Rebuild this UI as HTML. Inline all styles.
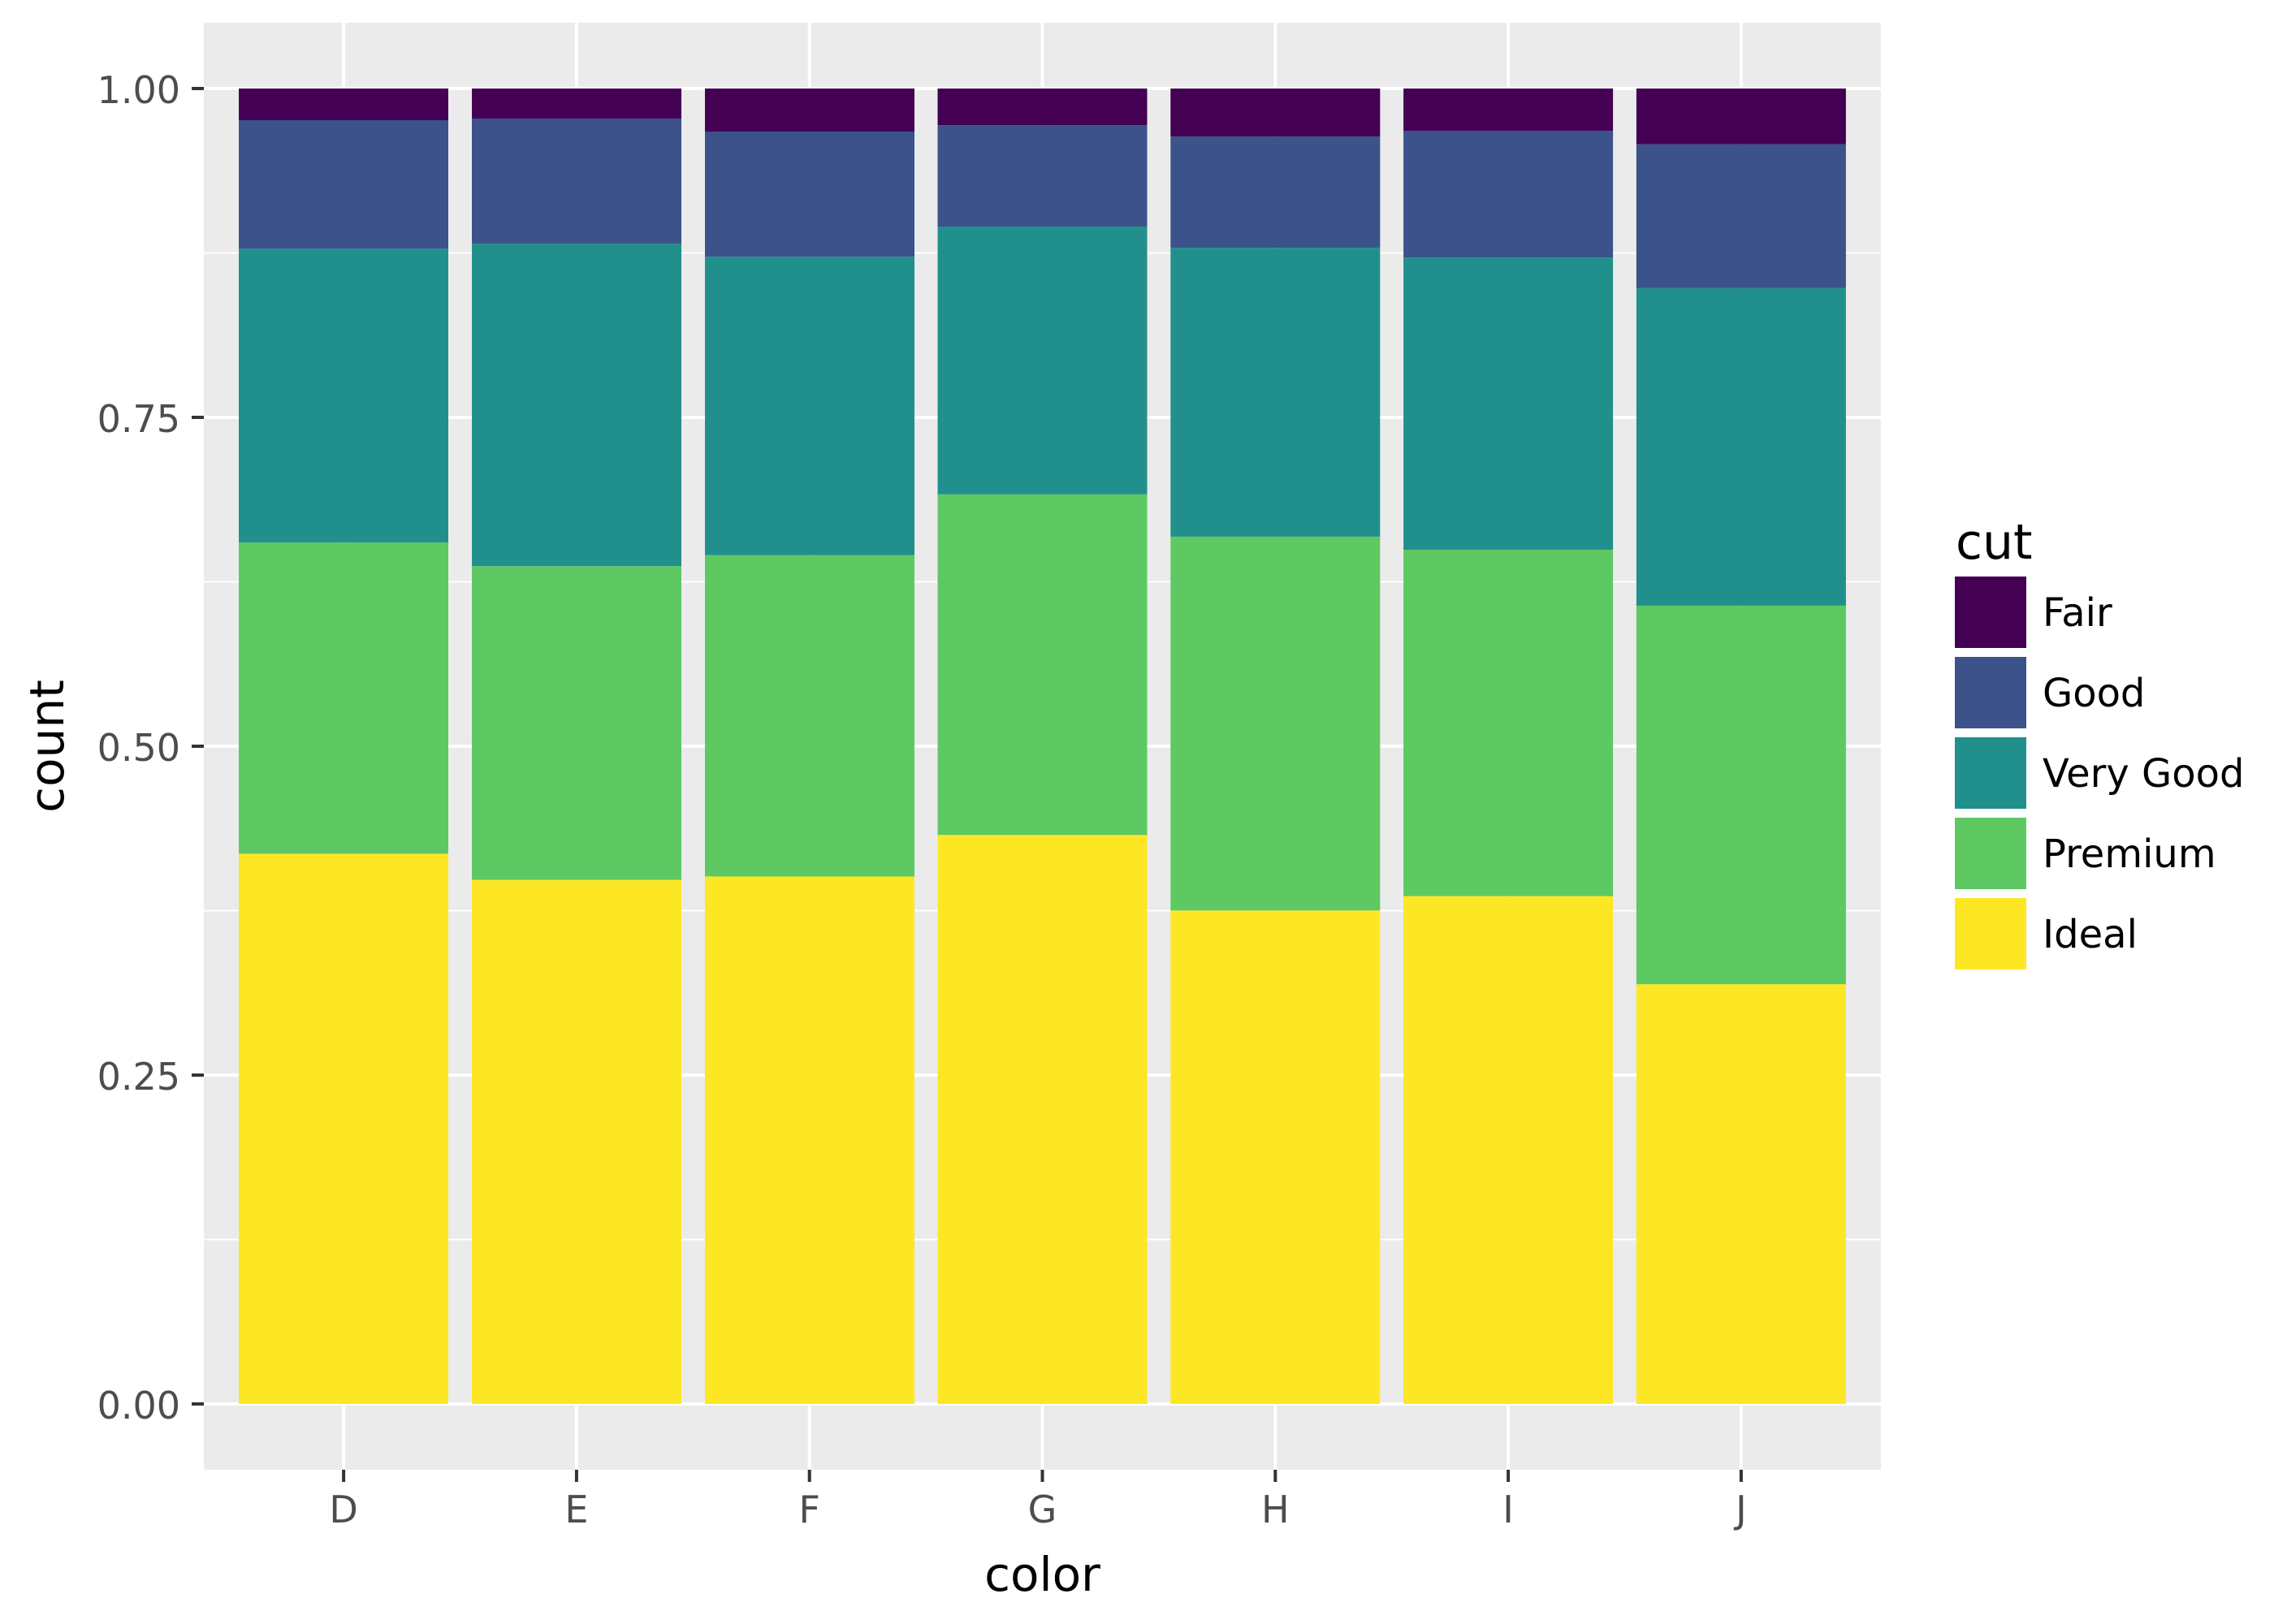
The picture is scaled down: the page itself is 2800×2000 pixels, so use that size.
<!DOCTYPE html>
<html><head><meta charset="utf-8"><style>html,body{margin:0;padding:0;background:#fff}svg{display:block}</style></head><body>
<svg width="2800" height="2000" viewBox="0 0 2800 2000" xmlns="http://www.w3.org/2000/svg" font-family="'DejaVu Sans','Liberation Sans',sans-serif">
<rect width="2800" height="2000" fill="#fff"/>
<rect x="251" y="28" width="2065" height="1782" fill="#ebebeb"/>
<g stroke="#fff" stroke-width="2">
<line x1="251" x2="2316" y1="1526.5" y2="1526.5"/><line x1="251" x2="2316" y1="1121.5" y2="1121.5"/><line x1="251" x2="2316" y1="716.5" y2="716.5"/><line x1="251" x2="2316" y1="311.5" y2="311.5"/>
</g>
<g stroke="#fff" stroke-width="4">
<line x1="251" x2="2316" y1="1729" y2="1729"/><line x1="251" x2="2316" y1="1324" y2="1324"/><line x1="251" x2="2316" y1="919" y2="919"/><line x1="251" x2="2316" y1="514" y2="514"/><line x1="251" x2="2316" y1="109" y2="109"/>
<line y1="28" y2="1810" x1="423.1" x2="423.1"/><line y1="28" y2="1810" x1="709.9" x2="709.9"/><line y1="28" y2="1810" x1="996.7" x2="996.7"/><line y1="28" y2="1810" x1="1283.5" x2="1283.5"/><line y1="28" y2="1810" x1="1570.3" x2="1570.3"/><line y1="28" y2="1810" x1="1857.1" x2="1857.1"/><line y1="28" y2="1810" x1="2143.9" x2="2143.9"/>
</g>
<g>
<rect x="294" y="1051.4" width="258" height="677.6" fill="#fde725"/><rect x="294" y="668.1" width="258" height="383.3" fill="#5ec962"/><rect x="294" y="306.3" width="258" height="361.8" fill="#21908c"/><rect x="294" y="148" width="258" height="158.3" fill="#3b528b"/><rect x="294" y="109" width="258" height="39" fill="#440154"/>
<rect x="581" y="1083.6" width="258" height="645.4" fill="#fde725"/><rect x="581" y="697.2" width="258" height="386.4" fill="#5ec962"/><rect x="581" y="300.3" width="258" height="396.9" fill="#21908c"/><rect x="581" y="146" width="258" height="154.3" fill="#3b528b"/><rect x="581" y="109" width="258" height="37" fill="#440154"/>
<rect x="868" y="1079.4" width="258" height="649.6" fill="#fde725"/><rect x="868" y="683.7" width="258" height="395.7" fill="#5ec962"/><rect x="868" y="316.3" width="258" height="367.4" fill="#21908c"/><rect x="868" y="162" width="258" height="154.3" fill="#3b528b"/><rect x="868" y="109" width="258" height="53" fill="#440154"/>
<rect x="1154.5" y="1028.3" width="258" height="700.7" fill="#fde725"/><rect x="1154.5" y="608.8" width="258" height="419.5" fill="#5ec962"/><rect x="1154.5" y="279" width="258" height="329.8" fill="#21908c"/><rect x="1154.5" y="154.1" width="258" height="124.9" fill="#3b528b"/><rect x="1154.5" y="109" width="258" height="45.1" fill="#440154"/>
<rect x="1441.3" y="1121.3" width="258" height="607.7" fill="#fde725"/><rect x="1441.3" y="660.9" width="258" height="460.4" fill="#5ec962"/><rect x="1441.3" y="305.1" width="258" height="355.8" fill="#21908c"/><rect x="1441.3" y="168.1" width="258" height="137" fill="#3b528b"/><rect x="1441.3" y="109" width="258" height="59.1" fill="#440154"/>
<rect x="1728.1" y="1103.6" width="258" height="625.4" fill="#fde725"/><rect x="1728.1" y="677" width="258" height="426.6" fill="#5ec962"/><rect x="1728.1" y="317.3" width="258" height="359.7" fill="#21908c"/><rect x="1728.1" y="161.3" width="258" height="156" fill="#3b528b"/><rect x="1728.1" y="109" width="258" height="52.3" fill="#440154"/>
<rect x="2014.9" y="1212.1" width="258" height="516.9" fill="#fde725"/><rect x="2014.9" y="745.9" width="258" height="466.2" fill="#5ec962"/><rect x="2014.9" y="354.8" width="258" height="391.1" fill="#21908c"/><rect x="2014.9" y="177.7" width="258" height="177.1" fill="#3b528b"/><rect x="2014.9" y="109" width="258" height="68.7" fill="#440154"/>
</g>
<g stroke="#333" stroke-width="4">
<line x1="236" x2="251" y1="1729" y2="1729"/><line x1="236" x2="251" y1="1324" y2="1324"/><line x1="236" x2="251" y1="919" y2="919"/><line x1="236" x2="251" y1="514" y2="514"/><line x1="236" x2="251" y1="109" y2="109"/>
<line y1="1810" y2="1825" x1="423.1" x2="423.1"/><line y1="1810" y2="1825" x1="709.9" x2="709.9"/><line y1="1810" y2="1825" x1="996.7" x2="996.7"/><line y1="1810" y2="1825" x1="1283.5" x2="1283.5"/><line y1="1810" y2="1825" x1="1570.3" x2="1570.3"/><line y1="1810" y2="1825" x1="1857.1" x2="1857.1"/><line y1="1810" y2="1825" x1="2143.9" x2="2143.9"/>
</g>
<g fill="#4d4d4d" font-size="46" text-anchor="end">
<text x="222" y="1747">0.00</text><text x="222" y="1342">0.25</text><text x="222" y="937">0.50</text><text x="222" y="532">0.75</text><text x="222" y="127">1.00</text>
</g>
<g fill="#4d4d4d" font-size="46" text-anchor="middle">
<text x="423.1" y="1875">D</text><text x="709.9" y="1875">E</text><text x="996.7" y="1875">F</text><text x="1283.5" y="1875">G</text><text x="1570.3" y="1875">H</text><text x="1857.1" y="1875">I</text><text x="2143.9" y="1875">J</text>
</g>
<text x="1283.5" y="1959" font-size="58" text-anchor="middle" fill="#000">color</text>
<text transform="translate(78,919) rotate(-90)" font-size="58" text-anchor="middle" fill="#000">count</text>
<text x="2408" y="688" font-size="60" fill="#000">cut</text>
<rect x="2407" y="710" width="88" height="88" fill="#440154"/>
<rect x="2407" y="809" width="88" height="88" fill="#3b528b"/>
<rect x="2407" y="908" width="88" height="88" fill="#21908c"/>
<rect x="2407" y="1007" width="88" height="88" fill="#5ec962"/>
<rect x="2407" y="1106" width="88" height="88" fill="#fde725"/>
<g font-size="48" fill="#000">
<text x="2515" y="771">Fair</text><text x="2515" y="870">Good</text><text x="2515" y="969">Very Good</text><text x="2515" y="1068">Premium</text><text x="2515" y="1167">Ideal</text>
</g>
</svg>
</body></html>
